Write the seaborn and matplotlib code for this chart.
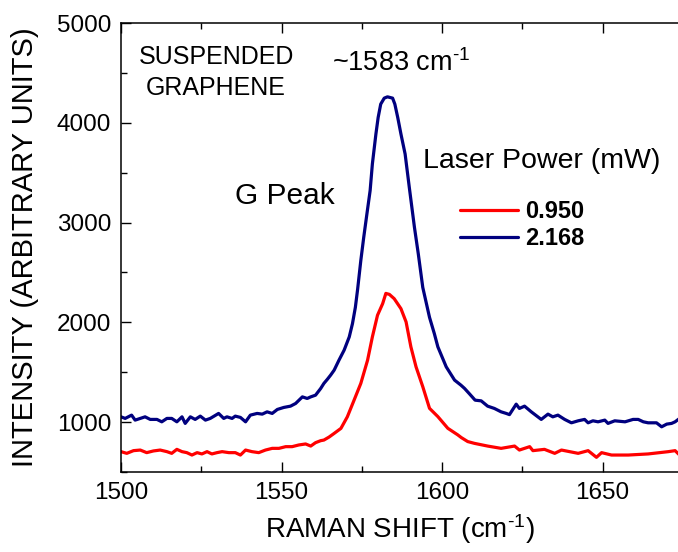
import pandas as pd
import matplotlib
matplotlib.use("Agg")
import matplotlib.pyplot as plt
from matplotlib.ticker import MultipleLocator
import seaborn as sns

# Raman spectra around the G peak
shift_low = [1500, 1501.8, 1503.9, 1506.0, 1508.0, 1510.1, 1512.2, 1514.3, 1515.8, 1517.4,
             1519.0, 1520.5, 1522.1, 1523.7, 1525.2, 1526.8, 1528.3, 1529.9, 1531.5, 1533.6,
             1535.6, 1537.2, 1538.8, 1540.8, 1542.9, 1545.0, 1547.1, 1549.2, 1551.3, 1553.3,
             1555.4, 1557.5, 1559.1, 1560.6, 1562.2, 1563.2, 1564.8, 1566.4, 1568.5, 1570.5,
             1572.6, 1574.7, 1576.8, 1578.3, 1579.9, 1581.5, 1582.5, 1583.6, 1585.1, 1587.2,
             1588.8, 1590.3, 1591.9, 1594.0, 1596.1, 1598.7, 1601.8, 1604.9, 1606.0, 1608.0,
             1610.1, 1614.2, 1618.4, 1622.6, 1624.1, 1627.3, 1628.3, 1631.9, 1635.1, 1637.2,
             1642.4, 1645.5, 1648.1, 1649.7, 1652.8, 1658.0, 1664.2, 1670.5, 1672.6, 1674.0]
int_low = [704, 687, 714, 720, 694, 711, 720, 704, 687, 727,
           704, 694, 670, 694, 681, 704, 681, 694, 704, 694,
           694, 670, 720, 704, 694, 720, 737, 737, 754, 754,
           771, 781, 760, 794, 814, 820, 850, 887, 937, 1053,
           1220, 1388, 1620, 1854, 2071, 2187, 2290, 2280, 2237, 2137,
           2004, 1754, 1554, 1355, 1138, 1055, 938, 872, 845, 805,
           787, 760, 737, 760, 720, 754, 714, 727, 687, 720,
           687, 714, 647, 694, 670, 670, 681, 704, 714, 670]

shift_high = [1500, 1501.3, 1503.3, 1504.4, 1506.0, 1507.5, 1509.1, 1511.2, 1512.7, 1514.3,
              1515.8, 1517.4, 1519.0, 1520.0, 1521.6, 1523.1, 1524.7, 1526.3, 1527.8, 1530.4,
              1532.0, 1533.0, 1534.6, 1535.6, 1537.2, 1538.8, 1540.3, 1542.4, 1544.0, 1545.5,
              1547.1, 1548.7, 1550.7, 1552.8, 1554.4, 1556.5, 1558.0, 1559.1, 1560.6, 1562.2,
              1563.2, 1564.3, 1565.3, 1566.4, 1567.9, 1569.5, 1571.1, 1572.1, 1573.0, 1573.7,
              1574.7, 1575.6, 1576.6, 1577.6, 1578.3, 1579.4, 1580.1, 1580.9, 1582.0, 1583.0,
              1584.6, 1585.3, 1586.2, 1587.2, 1588.5, 1589.8, 1591.4, 1592.6, 1594.0, 1596.1,
              1597.6, 1598.7, 1601.3, 1603.9, 1605.9, 1607.0, 1608.5, 1610.3, 1612.2, 1614.2,
              1616.3, 1618.4, 1620.0, 1621.0, 1623.1, 1624.1, 1625.7, 1627.8, 1630.9, 1633.0,
              1634.5, 1636.1, 1638.2, 1640.3, 1642.4, 1644.4, 1645.5, 1647.0, 1648.6, 1650.7,
              1651.7, 1653.8, 1657.0, 1659.5, 1661.1, 1662.7, 1664.2, 1666.8, 1668.4, 1670.0,
              1671.5, 1672.6, 1674.0]
int_high = [1053, 1037, 1070, 1020, 1037, 1053, 1027, 1027, 1003, 1037,
            1037, 1003, 1053, 987, 1053, 1027, 1060, 1020, 1037, 1087,
            1037, 1053, 1037, 1060, 1047, 1003, 1070, 1087, 1080, 1103,
            1087, 1127, 1147, 1160, 1187, 1253, 1237, 1253, 1270, 1337,
            1388, 1430, 1471, 1521, 1621, 1721, 1854, 1987, 2150, 2330,
            2620, 2850, 3087, 3320, 3587, 3887, 4053, 4187, 4247, 4260,
            4247, 4187, 4053, 3887, 3687, 3353, 2953, 2687, 2350, 2050,
            1887, 1754, 1554, 1421, 1370, 1338, 1285, 1220, 1213, 1160,
            1137, 1103, 1087, 1075, 1180, 1137, 1160, 1103, 1027, 1080,
            1053, 1070, 1027, 993, 1013, 1027, 993, 1013, 1003, 1020,
            987, 1013, 1003, 1027, 1027, 1003, 993, 993, 953, 980,
            987, 1003, 1037]

powers = ["0.950", "2.168"]
colors = {"0.950": "#ff0000", "2.168": "#00007f"}

df = pd.concat([
    pd.DataFrame({"shift": shift_low, "intensity": int_low, "power": powers[0]}),
    pd.DataFrame({"shift": shift_high, "intensity": int_high, "power": powers[1]}),
])

sns.set_theme(style="ticks", rc={"text.color": "black", "axes.labelcolor": "black",
                                 "xtick.color": "black", "ytick.color": "black",
                                 "axes.edgecolor": "black"})
plt.rcParams["font.family"] = ["Liberation Sans", "DejaVu Sans"]
plt.rcParams["mathtext.default"] = "regular"

fig = plt.figure(figsize=(6.78, 5.52), dpi=100)
ax = fig.add_axes([121 / 678, 80 / 552, 557 / 678, 449 / 552])

sns.lineplot(data=df, x="shift", y="intensity", hue="power", hue_order=powers,
             palette=colors, sort=False, estimator=None, linewidth=2.3, ax=ax)

ax.set_xlim(1500, 1673.5)
ax.set_ylim(500, 5000)
ax.xaxis.set_major_locator(MultipleLocator(50))
ax.xaxis.set_minor_locator(MultipleLocator(25))
ax.yaxis.set_major_locator(MultipleLocator(1000))
ax.yaxis.set_minor_locator(MultipleLocator(500))

for s in ["left", "bottom", "top"]:
    ax.spines[s].set_linewidth(1.1)
ax.spines["right"].set_visible(False)
ax.tick_params(which="both", direction="in", top=True, right=False, width=1.0,
               labelsize=17.5)
ax.tick_params(which="major", length=7, pad=7)
ax.tick_params(which="minor", length=4)

hy = "\u2010"  # plain hyphen in the superscripts, as in the original
ax.set_xlabel("RAMAN SHIFT (cm$^{" + hy + "1}$)", fontsize=20, labelpad=6)
ax.set_ylabel("INTENSITY (ARBITRARY UNITS)", fontsize=21, labelpad=13)

ax.text(1529.6, 4590, "SUSPENDED", fontsize=18, ha="center", va="baseline")
ax.text(1529.6, 4280, "GRAPHENE", fontsize=18, ha="center", va="baseline")
ax.text(1565.7, 4520, "~1583 cm$^{" + hy + "1}$", fontsize=19.5, ha="left", va="baseline")
ax.text(1535.5, 3190, "G Peak", fontsize=21.5, ha="left", va="baseline")
ax.text(1594, 3550, "Laser Power (mW)", fontsize=20.5, ha="left", va="baseline")

sns.move_legend(ax, "upper left", bbox_to_anchor=(0.609, 0.605), frameon=False,
                title=None, prop={"weight": "bold", "size": 17}, handlelength=2.45,
                handletextpad=0.3, labelspacing=0.15, borderpad=0, borderaxespad=0)

fig.savefig("out.png", dpi=100)
